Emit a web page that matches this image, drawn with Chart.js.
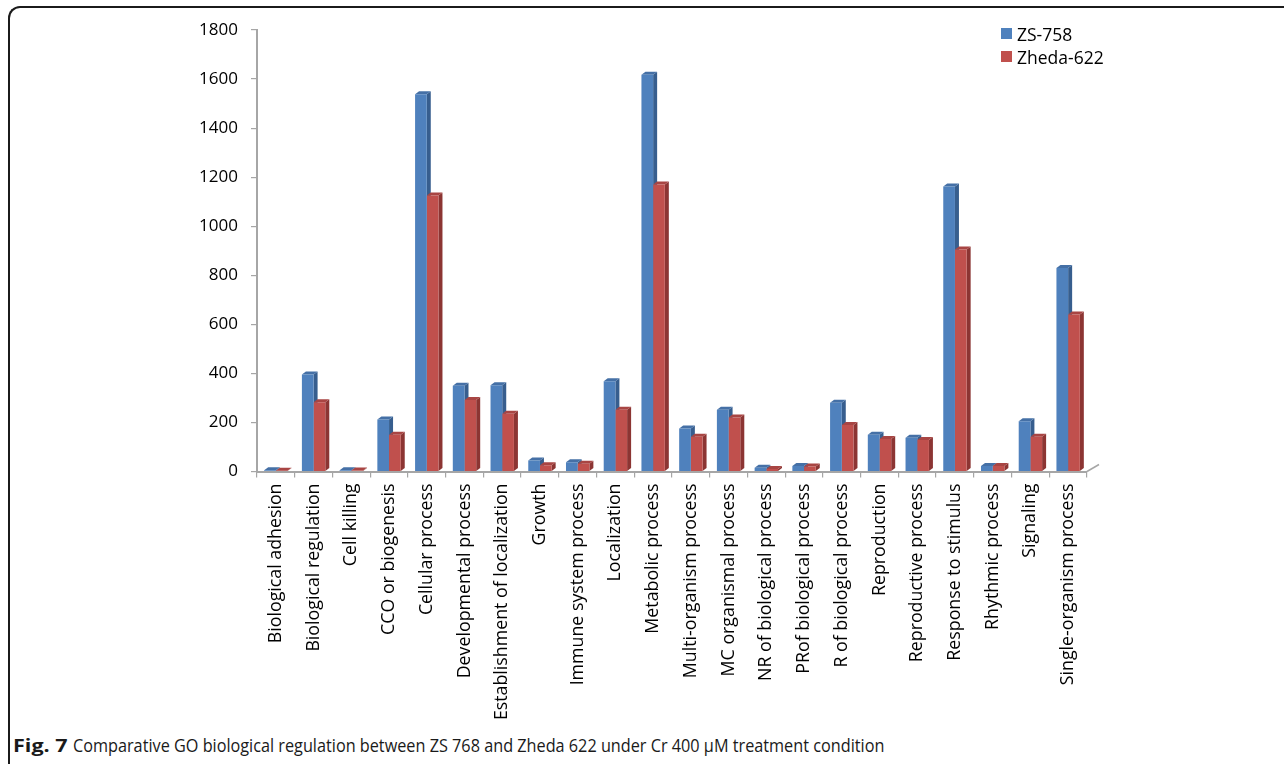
<!DOCTYPE html>
<html>
<head>
<meta charset="utf-8">
<title>GO biological process comparison</title>
<script src="https://cdn.jsdelivr.net/npm/chart.js@4.4.1/dist/chart.umd.min.js"></script>
<style>
  html, body { margin: 0; padding: 0; background: #fff; }
  body { width: 1284px; height: 764px; position: relative; overflow: hidden; font-family: "Open Sans", sans-serif; }
  #frame { position: absolute; left: 8px; top: 6px; width: 1320px; height: 820px; box-sizing: border-box;
           border-top: 2px solid #1b1b1b; border-left: 2px solid #1b1b1b; border-top-left-radius: 12px; }
  #wrap { position: absolute; left: 0; top: 0; width: 1284px; height: 730px; }
  #legend { position: absolute; left: 1001px; top: 22px; font-size: 17.5px; color: #000; }
  #legend .item { display: flex; align-items: center; height: 23px; }
  #legend .sw { width: 11px; height: 11px; margin-right: 5px; }
  #caption { position: absolute; left: 13px; top: 733px; font-size: 18px; line-height: 24px; white-space: nowrap; color: #1a1a1a; }
  #caption span { display: inline-block; transform-origin: 0 0; }
  #cap-num { font-weight: 700; }
  #cap-text { position: absolute; left: 60px; top: 0; }
</style>
</head>
<body>
<div id="frame"></div>
<div id="wrap"><canvas id="chart"></canvas></div>
<div id="legend"></div>
<div id="caption"><span id="cap-num">Fig. 7</span><span id="cap-text">Comparative GO biological regulation between ZS 768 and Zheda 622 under Cr 400 µM treatment condition</span></div>
<script>
// GO biological process terms
const categories = [
  'Biological adhesion', 'Biological regulation', 'Cell killing', 'CCO or biogenesis',
  'Cellular process', 'Developmental process', 'Establishment of localization', 'Growth',
  'Immune system process', 'Localization', 'Metabolic process', 'Multi-organism process',
  'MC organismal process', 'NR of biological process', 'PRof biological process',
  'R of biological process', 'Reproduction', 'Reproductive process', 'Response to stimulus',
  'Rhythmic process', 'Signaling', 'Single-organism process'
];

// gene counts per term
const zs758 = [5, 395, 5, 212, 1538, 350, 352, 45, 38, 368, 1618, 175, 252, 15, 22, 280, 150, 138, 1162, 22, 205, 830];
const zheda622 = [3, 282, 4, 150, 1125, 292, 235, 25, 32, 252, 1170, 142, 220, 10, 20, 190, 132, 128, 905, 22, 142, 640];

const seriesNames = ['ZS-758', 'Zheda-622'];
const yTickValues = [0, 200, 400, 600, 800, 1000, 1200, 1400, 1600, 1800];
const yTickLabels = ['0', '200', '400', '600', '800', '1000', '1200', '1400', '1600', '1800'];

const frontColors = ['#4F81BD', '#C0504D'];
const sideColors = ['#375E8E', '#8C3533'];
const topColors = ['#4570A6', '#A84543'];

// extruded faces (right side + top) for each column, drawn beneath the fronts
const bar3d = {
  id: 'bar3d',
  beforeDatasetsDraw(chart) {
    const ctx = chart.ctx;
    const dx = 4, dy = 3;
    ctx.save();
    chart.data.datasets.forEach((ds, di) => {
      const meta = chart.getDatasetMeta(di);
      meta.data.forEach(bar => {
        const p = bar.getProps(['x', 'y', 'base', 'width'], true);
        const l = p.x - p.width / 2, r = p.x + p.width / 2;
        ctx.fillStyle = ds.sideColor;
        ctx.beginPath();
        ctx.moveTo(r, p.y); ctx.lineTo(r + dx, p.y - dy);
        ctx.lineTo(r + dx, p.base - dy); ctx.lineTo(r, p.base);
        ctx.closePath(); ctx.fill();
        ctx.fillStyle = ds.topColor;
        ctx.beginPath();
        ctx.moveTo(l, p.y); ctx.lineTo(l + dx, p.y - dy);
        ctx.lineTo(r + dx, p.y - dy); ctx.lineTo(r, p.y);
        ctx.closePath(); ctx.fill();
      });
    });
    ctx.restore();
  },
  afterDraw(chart) {
    // receding edge of the floor at the right end of the category axis
    const ctx = chart.ctx, a = chart.chartArea;
    ctx.save();
    ctx.strokeStyle = '#a6a6a6';
    ctx.lineWidth = 1.5;
    ctx.beginPath();
    ctx.moveTo(a.right, a.bottom);
    ctx.lineTo(a.right + 12, a.bottom - 7);
    ctx.stroke();
    ctx.restore();
  }
};

new Chart(document.getElementById('chart'), {
  type: 'bar',
  data: {
    labels: categories,
    datasets: [
      { label: seriesNames[0], data: zs758, backgroundColor: frontColors[0], sideColor: sideColors[0], topColor: topColors[0] },
      { label: seriesNames[1], data: zheda622, backgroundColor: frontColors[1], sideColor: sideColors[1], topColor: topColors[1] }
    ]
  },
  options: {
    responsive: true,
    maintainAspectRatio: false,
    devicePixelRatio: 1,
    animation: false,
    categoryPercentage: 0.62,
    barPercentage: 1.0,
    layout: { padding: { top: 30, left: 0, right: 197, bottom: 0 } },
    plugins: { legend: { display: false }, tooltip: { enabled: false } },
    scales: {
      x: {
        grid: { offset: true, drawOnChartArea: false, drawTicks: true, tickLength: 6, color: '#a6a6a6', lineWidth: 1.2 },
        border: { color: '#a6a6a6', width: 2 },
        ticks: { autoSkip: false, maxRotation: 90, minRotation: 90, padding: 6, color: '#000',
                 font: { family: '"Open Sans", sans-serif', size: 17.8 } },
        afterFit(s) { s.height = 258.5; }
      },
      y: {
        min: 0,
        max: 1800,
        afterBuildTicks(s) { s.ticks = yTickValues.map(v => ({ value: v })); },
        grid: { drawOnChartArea: false, drawTicks: true, tickLength: 6, color: '#a6a6a6', lineWidth: 1.2 },
        border: { color: '#a6a6a6', width: 2 },
        ticks: { padding: 13, color: '#000', font: { family: '"Open Sans", sans-serif', size: 17 },
                 callback: (v, i) => yTickLabels[i] },
        afterFit(s) { s.width = 257; }
      }
    }
  },
  plugins: [bar3d]
});

// legend entries
const legend = document.getElementById('legend');
seriesNames.forEach((name, i) => {
  const item = document.createElement('div');
  item.className = 'item';
  const sw = document.createElement('div');
  sw.className = 'sw';
  sw.style.background = frontColors[i];
  const t = document.createElement('span');
  t.textContent = name;
  item.appendChild(sw);
  item.appendChild(t);
  legend.appendChild(item);
});

// caption: bold figure number followed by the description, each fitted to its line width
const capNum = document.getElementById('cap-num');
const capText = document.getElementById('cap-text');
capNum.style.transform = 'scaleX(' + (55 / capNum.offsetWidth) + ')';
capText.style.transform = 'scaleX(' + (811 / capText.offsetWidth) + ')';
</script>
</body>
</html>
